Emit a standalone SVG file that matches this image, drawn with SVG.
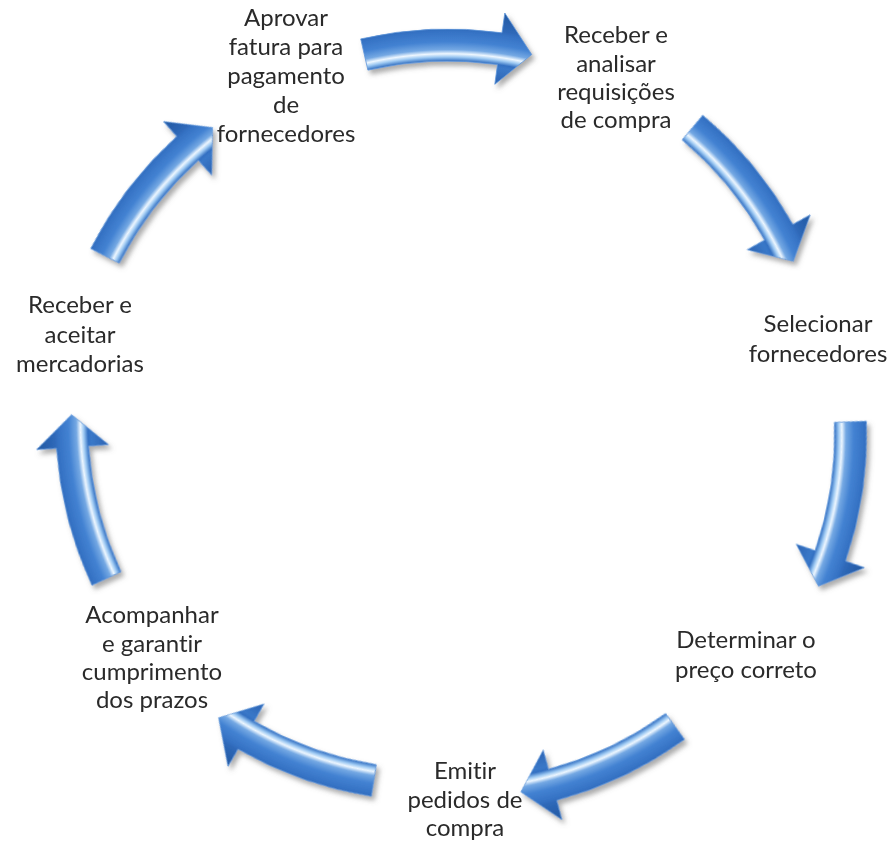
<svg xmlns="http://www.w3.org/2000/svg" width="896" height="843" viewBox="0 0 896 843" xmlns:xlink="http://www.w3.org/1999/xlink">
  <style>
    .lbl { font-family: Lato, "Liberation Sans", sans-serif; font-size: 24px; fill: #2a2a2a; text-anchor: middle; font-variant-ligatures: none; font-feature-settings: "liga" 0; }
    .arrow { fill: url(#shaftGrad); stroke: #5f97da; stroke-width: 0.8; stroke-linejoin: round; }
  </style>
  <defs>
    <radialGradient id="shaftGrad" gradientUnits="userSpaceOnUse" cx="0" cy="0" r="410">
      <stop offset="0.80" stop-color="#2459a8"/>
      <stop offset="0.86" stop-color="#3a78c8"/>
      <stop offset="0.868" stop-color="#3370c2"/>
      <stop offset="0.878" stop-color="#9cc8f2"/>
      <stop offset="0.886" stop-color="#eef7ff"/>
      <stop offset="0.896" stop-color="#74a8e3"/>
      <stop offset="0.915" stop-color="#4382d2"/>
      <stop offset="0.94" stop-color="#3572c4"/>
      <stop offset="0.95" stop-color="#2e68b8"/>
      <stop offset="1" stop-color="#21569e"/>
    </radialGradient>
    <filter id="shadow" x="-10%" y="-10%" width="120%" height="120%">
      <feDropShadow dx="3" dy="4" stdDeviation="2.5" flood-color="#666" flood-opacity="0.55"/>
    </filter>
    <path id="arc-arrow" class="arrow" d="M -87.3,-378.1 A 388 388 0 0 1 54.0,-384.2 L 56.8,-404.0 L 83.7,-362.5 L 46.8,-332.7 L 49.5,-352.5 A 356 356 0 0 0 -80.1,-346.9 Z"/>
  </defs>

  <rect x="0" y="0" width="896" height="843" fill="#ffffff"/>

  <g id="connectors" filter="url(#shadow)">
    <use id="c1" xlink:href="#arc-arrow" href="#arc-arrow" transform="translate(448,417) rotate(0)"/>
    <use id="c2" xlink:href="#arc-arrow" href="#arc-arrow" transform="translate(453.4,412.6) rotate(53)"/>
    <use id="c3" xlink:href="#arc-arrow" href="#arc-arrow" transform="translate(478.6,434.8) rotate(101)"/>
    <use id="c4" xlink:href="#arc-arrow" href="#arc-arrow" transform="translate(456.3,425.5) rotate(157)"/>
    <use id="c5" xlink:href="#arc-arrow" href="#arc-arrow" transform="translate(432,413) rotate(202)"/>
    <use id="c6" xlink:href="#arc-arrow" href="#arc-arrow" transform="translate(443.6,421.2) rotate(258)"/>
    <use id="c7" xlink:href="#arc-arrow" href="#arc-arrow" transform="translate(436.5,424.7) rotate(310)"/>
  </g>

  <g id="node-aprovar">
    <text class="lbl" x="286" y="26">Aprovar</text>
    <text class="lbl" x="286" y="55">fatura para</text>
    <text class="lbl" x="286" y="84">pagamento</text>
    <text class="lbl" x="286" y="113">de</text>
    <text class="lbl" x="286" y="142">fornecedores</text>
  </g>
  <g id="node-receber-analisar">
    <text class="lbl" x="616" y="43">Receber e</text>
    <text class="lbl" x="616" y="72">analisar</text>
    <text class="lbl" x="616" y="100">requisições</text>
    <text class="lbl" x="616" y="128">de compra</text>
  </g>
  <g id="node-selecionar">
    <text class="lbl" x="818" y="332">Selecionar</text>
    <text class="lbl" x="818" y="362">fornecedores</text>
  </g>
  <g id="node-determinar">
    <text class="lbl" x="746" y="648">Determinar o</text>
    <text class="lbl" x="746" y="678">preço correto</text>
  </g>
  <g id="node-emitir">
    <text class="lbl" x="465" y="779">Emitir</text>
    <text class="lbl" x="465" y="808">pedidos de</text>
    <text class="lbl" x="465" y="836">compra</text>
  </g>
  <g id="node-acompanhar">
    <text class="lbl" x="152" y="623">Acompanhar</text>
    <text class="lbl" x="152" y="652">e garantir</text>
    <text class="lbl" x="152" y="680">cumprimento</text>
    <text class="lbl" x="152" y="708">dos prazos</text>
  </g>
  <g id="node-receber-aceitar">
    <text class="lbl" x="80" y="313">Receber e</text>
    <text class="lbl" x="80" y="343">aceitar</text>
    <text class="lbl" x="80" y="372">mercadorias</text>
  </g>
</svg>
